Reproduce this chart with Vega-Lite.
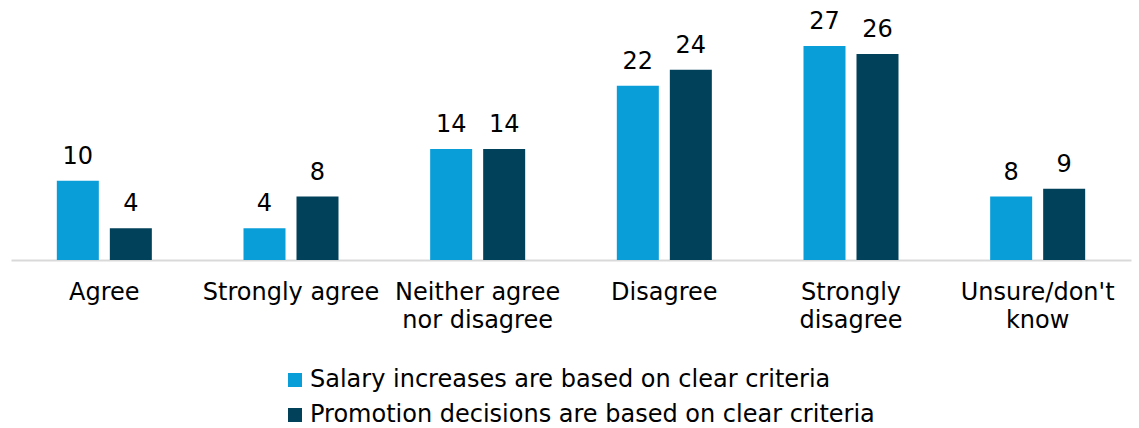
{
  "$schema": "https://vega.github.io/schema/vega-lite/v6.json",
  "autosize": "none",
  "width": 1120,
  "height": 214,
  "padding": {"left": 11, "top": 46, "right": 8, "bottom": 168},
  "background": "white",
  "config": {
    "view": {"stroke": null},
    "font": "DejaVu Sans"
  },
  "data": {
    "values": [
      {"category": "Agree", "series": "Salary increases are based on clear criteria", "value": 10},
      {"category": "Agree", "series": "Promotion decisions are based on clear criteria", "value": 4},
      {"category": "Strongly agree", "series": "Salary increases are based on clear criteria", "value": 4},
      {"category": "Strongly agree", "series": "Promotion decisions are based on clear criteria", "value": 8},
      {"category": "Neither agree nor disagree", "series": "Salary increases are based on clear criteria", "value": 14},
      {"category": "Neither agree nor disagree", "series": "Promotion decisions are based on clear criteria", "value": 14},
      {"category": "Disagree", "series": "Salary increases are based on clear criteria", "value": 22},
      {"category": "Disagree", "series": "Promotion decisions are based on clear criteria", "value": 24},
      {"category": "Strongly disagree", "series": "Salary increases are based on clear criteria", "value": 27},
      {"category": "Strongly disagree", "series": "Promotion decisions are based on clear criteria", "value": 26},
      {"category": "Unsure/don't know", "series": "Salary increases are based on clear criteria", "value": 8},
      {"category": "Unsure/don't know", "series": "Promotion decisions are based on clear criteria", "value": 9}
    ]
  },
  "encoding": {
    "x": {
      "field": "category",
      "type": "nominal",
      "sort": null,
      "scale": {"paddingInner": 0.491, "paddingOuter": 0.2455},
      "axis": {
        "title": null,
        "labelAngle": 0,
        "ticks": false,
        "domainColor": "#d9d9d9",
        "domainWidth": 2,
        "labelFontSize": 24,
        "labelColor": "#000000",
        "labelPadding": 20,
        "labelLineHeight": 28.5,
        "labelExpr": "datum.label == 'Neither agree nor disagree' ? ['Neither agree', 'nor disagree'] : datum.label == 'Strongly disagree' ? ['Strongly', 'disagree'] : datum.label == \"Unsure/don't know\" ? [\"Unsure/don't\", 'know'] : datum.label"
      }
    },
    "xOffset": {
      "field": "series",
      "type": "nominal",
      "sort": ["Salary increases are based on clear criteria", "Promotion decisions are based on clear criteria"],
      "scale": {"paddingInner": 0.2075, "paddingOuter": 0}
    },
    "y": {
      "field": "value",
      "type": "quantitative",
      "scale": {"domain": [0, 27], "nice": false, "zero": true},
      "axis": null
    }
  },
  "layer": [
    {
      "mark": {"type": "bar"},
      "encoding": {
        "color": {
          "field": "series",
          "type": "nominal",
          "sort": ["Salary increases are based on clear criteria", "Promotion decisions are based on clear criteria"],
          "scale": {"range": ["#0a9ed9", "#02415a"]},
          "legend": {
            "title": null,
            "orient": "none",
            "legendX": 272,
            "legendY": 322,
            "direction": "vertical",
            "symbolType": "square",
            "symbolSize": 196,
            "symbolStrokeWidth": 0,
            "labelFontSize": 24,
            "labelColor": "#000000",
            "labelOffset": 3,
            "rowPadding": 11,
            "labelLimit": 1000
          }
        }
      }
    },
    {
      "mark": {"type": "text", "fontSize": 24, "color": "#000000", "baseline": "alphabetic", "dy": -17},
      "encoding": {
        "text": {"field": "value", "type": "quantitative"}
      }
    }
  ]
}
